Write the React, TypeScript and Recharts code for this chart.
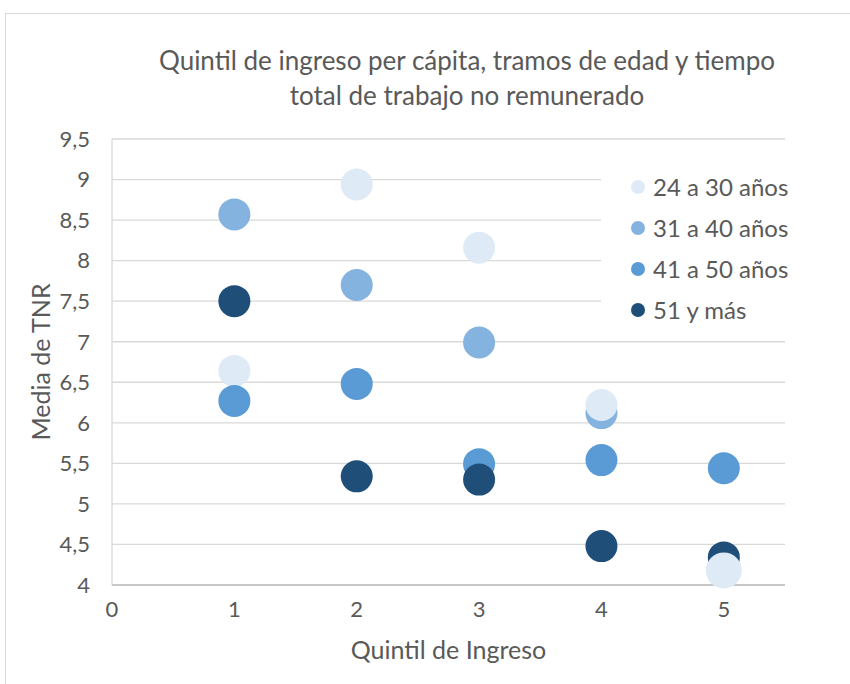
import { ScatterChart, Scatter, XAxis, YAxis, CartesianGrid, Legend } from 'recharts';

const quintiles = [1, 2, 3, 4, 5];
const edad24a30 = [6.64, 8.94, 8.16, 6.22, 4.18];
const edad31a40 = [8.57, 7.70, 6.99, 6.12];
const edad41a50 = [6.27, 6.48, 5.49, 5.54, 5.44];
const edad51mas = [7.50, 5.34, 5.30, 4.48, 4.34];

const xTicks = [0, 1, 2, 3, 4, 5];
const yTicks = [4, 4.5, 5, 5.5, 6, 6.5, 7, 7.5, 8, 8.5, 9, 9.5];

const FONT = 'Lato, "Open Sans", sans-serif';
const TEXT = '#595959';

const toPoints = (vals: number[]) => vals.map((v, i) => ({ x: quintiles[i], y: v }));

const series = [
  { name: '24 a 30 años', color: '#DEEAF6', data: toPoints(edad24a30) },
  { name: '31 a 40 años', color: '#85B3E0', data: toPoints(edad31a40) },
  { name: '41 a 50 años', color: '#5B9BD5', data: toPoints(edad41a50) },
  { name: '51 y más', color: '#1F4E79', data: toPoints(edad51mas) },
];

// drawing order differs from legend order in the original
const drawOrder = [1, 0, 2, 3];

const fmt = (v: number) => String(v).replace('.', ',');

const dot = (r: number, color: string) => (p: any) => <circle cx={p.cx} cy={p.cy} r={r} fill={color} />;

function LegendBox() {
  return (
    <div style={{ background: '#fff', padding: '8px 0 8px 30px', fontFamily: FONT }}>
      {series.map(s => (
        <div key={s.name} style={{ display: 'flex', alignItems: 'center', height: 41, fontSize: 24, color: TEXT }}>
          <span style={{ width: 14, height: 14, borderRadius: '50%', background: s.color, marginRight: 8, display: 'inline-block' }} />
          {s.name}
        </div>
      ))}
    </div>
  );
}

export default function App() {
  const last = series[0].data[series[0].data.length - 1];
  return (
    <div style={{ position: 'fixed', left: 0, top: 0, width: 850, height: 684, background: '#fff', overflow: 'hidden' }}>
      <div style={{ position: 'absolute', left: 5, top: 13, width: 900, height: 700, border: '1.5px solid #d9d9d9' }} />
      <div style={{ position: 'absolute', left: 112, width: 710, top: 43, textAlign: 'center', fontFamily: FONT, fontSize: 26, lineHeight: '35px', color: TEXT }}>
        Quintil de ingreso per cápita, tramos de edad y tiempo<br />total de trabajo no remunerado
      </div>
      <div style={{ position: 'absolute', left: 0, top: 0 }}>
        <ScatterChart width={850} height={684} margin={{ top: 139, right: 65, bottom: 49, left: 20 }}>
          <CartesianGrid vertical={false} stroke="#d9d9d9" strokeWidth={1.3} />
          <XAxis
            type="number"
            dataKey="x"
            domain={[0, 5.5]}
            ticks={xTicks}
            height={50}
            axisLine={{ stroke: '#bfbfbf', strokeWidth: 1.3 }}
            tickLine={false}
            tickSize={0}
            tickMargin={16}
            tick={{ fontSize: 22, fill: TEXT, fontFamily: FONT }}
            label={{ value: 'Quintil de Ingreso', position: 'bottom', offset: 6, fontSize: 25, fill: TEXT, fontFamily: FONT }}
          />
          <YAxis
            type="number"
            dataKey="y"
            domain={[4, 9.5]}
            ticks={yTicks}
            width={92}
            interval={0}
            axisLine={{ stroke: '#d9d9d9', strokeWidth: 1.3 }}
            tickLine={false}
            tickSize={0}
            tickMargin={22}
            tickFormatter={fmt}
            tick={{ fontSize: 22, fill: TEXT, fontFamily: FONT }}
            label={{
              value: 'Media de TNR',
              content: (p: any) => {
                const vb = p.viewBox;
                const cx = 40;
                const cy = vb.y + vb.height / 2;
                return (
                  <text x={cx} y={cy} transform={`rotate(-90 ${cx} ${cy})`} textAnchor="middle" dominantBaseline="central"
                    fontSize={25} fill={TEXT} fontFamily={FONT}>Media de TNR</text>
                );
              },
            }}
          />
          {drawOrder.map(i => (
            <Scatter key={series[i].name} name={series[i].name} data={series[i].data} fill={series[i].color}
              shape={dot(16, series[i].color)} isAnimationActive={false} />
          ))}
          <Scatter name="top" data={[last]} fill={series[0].color} shape={dot(18, series[0].color)}
            legendType="none" isAnimationActive={false} />
          <Legend
            layout="horizontal"
            verticalAlign="middle"
            align="center"
            wrapperStyle={{ position: 'absolute', left: 601, top: 158, width: 200 }}
            content={() => <LegendBox />}
          />
        </ScatterChart>
      </div>
    </div>
  );
}
